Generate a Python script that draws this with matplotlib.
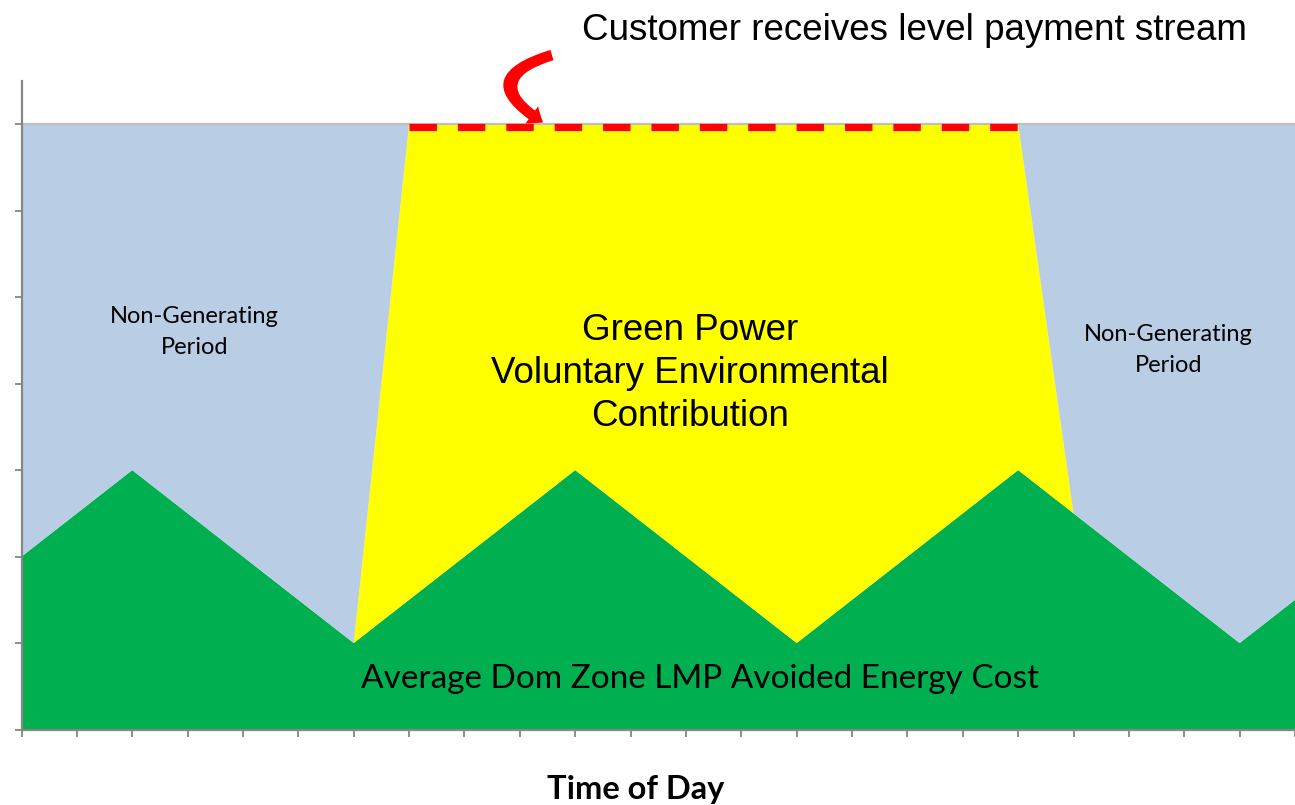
import matplotlib
matplotlib.use("Agg")
import matplotlib.pyplot as plt
import matplotlib.transforms as mtransforms
import numpy as np

# ---- data ----
hours = list(range(24))
avoided_energy_cost = [2, 2.5, 3, 2.5, 2, 1.5, 1, 1.5, 2, 2.5, 3, 2.5,
                       2, 1.5, 1, 1.5, 2, 2.5, 3, 2.5, 2, 1.5, 1, 1.5]
environmental_contribution = [0, 0, 0, 0, 0, 0, 0, 5.5, 5, 4.5, 4, 4.5,
                              5, 5.5, 6, 5.5, 5, 4.5, 4, 0, 0, 0, 0, 0]
non_generating = [5, 4.5, 4, 4.5, 5, 5.5, 6, 0, 0, 0, 0, 0,
                  0, 0, 0, 0, 0, 0, 0, 4.5, 5, 5.5, 6, 5.5]
level_payment = 7
level_start, level_end = 7, 18

W, H = 1295, 805
fig = plt.figure(figsize=(W / 100, H / 100), dpi=100)
ax = fig.add_axes([21.5 / W, (H - 729.5) / H, 1 - 21.5 / W, (729.5 - 81) / H])

ax.stackplot(hours, avoided_energy_cost, environmental_contribution, non_generating,
             colors=["#00B050", "#FFFF00", "#B9CDE5"], linewidth=0)

ax.set_xlim(0, 23)
ax.set_ylim(0, 7.5)
ax.axhline(level_payment, color="#BFBFBF", lw=1.6, zorder=3)

off = mtransforms.offset_copy(ax.transData, fig=fig, x=0, y=-3, units="dots")
ax.plot([level_start, level_end], [level_payment, level_payment], color="#FF0000",
        lw=5.2, dashes=(3.8, 2.9), solid_capstyle="butt", dash_capstyle="butt",
        transform=off, zorder=4, clip_on=False)

# curved arrow
ax.annotate("", xy=(9.42, 7.02), xytext=(9.58, 7.8),
            arrowprops=dict(arrowstyle="simple,head_length=0.7,head_width=1.1,tail_width=0.55",
                            connectionstyle="arc3,rad=1.1", color="#FF0000", lw=0,
                            mutation_scale=14, shrinkA=0, shrinkB=0),
            annotation_clip=False, zorder=5)

ax.set_xticks(hours)
ax.set_yticks(range(8))
ax.set_xticklabels([])
ax.set_yticklabels([])
ax.tick_params(axis="both", direction="out", length=5, width=1.3, color="#868686")
for s in ["top", "right"]:
    ax.spines[s].set_visible(False)
for s in ["left", "bottom"]:
    ax.spines[s].set_color("#868686")
    ax.spines[s].set_linewidth(1.6)
    ax.spines[s].set_zorder(6)

calib = ["Lato", "DejaVu Sans"]
arial = ["Liberation Sans", "DejaVu Sans"]

ax.text(3.13, 4.6, "Non-Generating\nPeriod", ha="center", va="center",
        fontsize=17, family=calib, linespacing=1.6)
ax.text(20.71, 4.39, "Non-Generating\nPeriod", ha="center", va="center",
        fontsize=17, family=calib, linespacing=1.6)
ax.text(12.07, 4.12, "Green Power\nVoluntary Environmental\nContribution", ha="center",
        va="center", fontsize=26.5, family=arial, linespacing=1.3)
ax.text(12.26, 0.58, "Average Dom Zone LMP Avoided Energy Cost", ha="center",
        va="center", fontsize=24, family=calib)

fig.text(636 / W, 1 - 789 / H, "Time of Day", ha="center", va="center",
         fontsize=23.5, fontweight="bold", family=calib)
fig.text(914 / W, 1 - 30 / H, "Customer receives level payment stream", ha="center",
         va="center", fontsize=26.5, family=arial)

fig.savefig("out.png", dpi=100)
